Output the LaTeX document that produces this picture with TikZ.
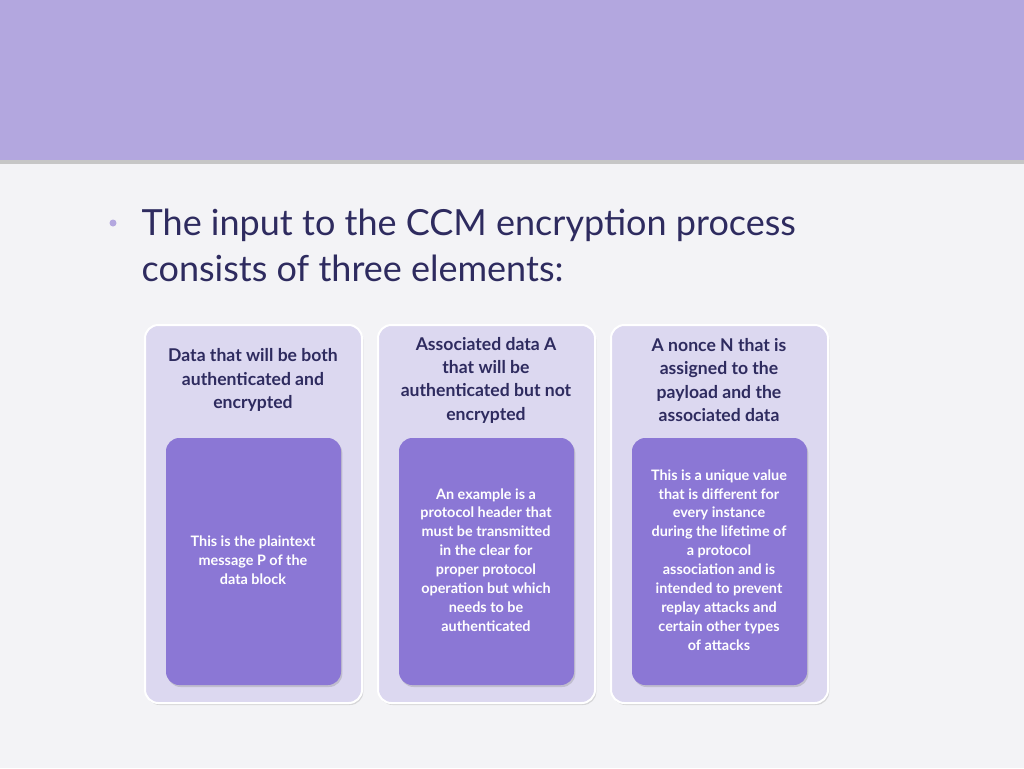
\documentclass[tikz,border=0pt]{standalone}
\usepackage{fontspec}
\setmainfont{Lato}
\usetikzlibrary{shadows}
\definecolor{band}{HTML}{B3A7DF}
\definecolor{paper}{HTML}{F3F3F6}
\definecolor{navy}{HTML}{2E2B5F}
\definecolor{outerfill}{HTML}{DCD8F0}
\definecolor{innerfill}{HTML}{8B77D5}
\tikzset{
    outerbox/.style = {fill = outerfill, draw = white, line width = 1.5pt, rounded corners = 10pt,
        drop shadow = {opacity = 0.25, shadow xshift = 1pt, shadow yshift = -1.5pt}},
    innerbox/.style = {fill = innerfill, draw = none, rounded corners = 10pt,
        drop shadow = {opacity = 0.3, shadow xshift = 1pt, shadow yshift = -1.5pt}},
    headtext/.style = {text = navy, align = center, font = \fontsize{13.2}{17.5}\selectfont\bfseries},
    bodytext/.style = {text = white, align = center, font = \fontsize{10.8}{14.2}\selectfont\bfseries}
}
\begin{document}
\begin{tikzpicture}[x = 0.75pt, y = -0.75pt]
        \fill [paper] (0, 0) rectangle (1024, 768);
        \useasboundingbox (0, 0) rectangle (1024, 768);
        \fill [band] (0, 0) rectangle (1024, 160);
        \fill [gray!45] (0, 160) rectangle (1024, 164);
        % title
        \fill [band] (113, 223) circle (3.5);
        \node [anchor = west, text = navy, align = left, font = \fontsize{27}{34.5}\selectfont] (title) at (137, 245)
            {The input to the CCM encryption process\\consists of three elements:};
        % three columns
        \foreach \cx/\name in {253/data, 486/assoc, 719/nonce} {
            \path [outerbox] (\cx - 108, 325) rectangle (\cx + 109, 703);
            \path [innerbox] (\cx - 87, 438) rectangle (\cx + 88, 685);
        }
        \node [headtext] (datahead) at (253, 380) {Data that will be both\\authenticated and\\encrypted};
        \node [headtext] (assochead) at (486, 380) {Associated data A\\that will be\\authenticated but not\\encrypted};
        \node [headtext] (noncehead) at (719, 380) {A nonce N that is\\assigned to the\\payload and the\\associated data};
        \node [bodytext] (databody) at (253, 560) {This is the plaintext\\message P of the\\data block};
        \node [bodytext] (assocbody) at (486, 560) {An example is a\\protocol header that\\must be transmitted\\in the clear for\\proper protocol\\operation but which\\needs to be\\authenticated};
        \node [bodytext] (noncebody) at (719, 560) {This is a unique value\\that is different for\\every instance\\during the lifetime of\\a protocol\\association and is\\intended to prevent\\replay attacks and\\certain other types\\of attacks};
    \end{tikzpicture}
\end{document}
